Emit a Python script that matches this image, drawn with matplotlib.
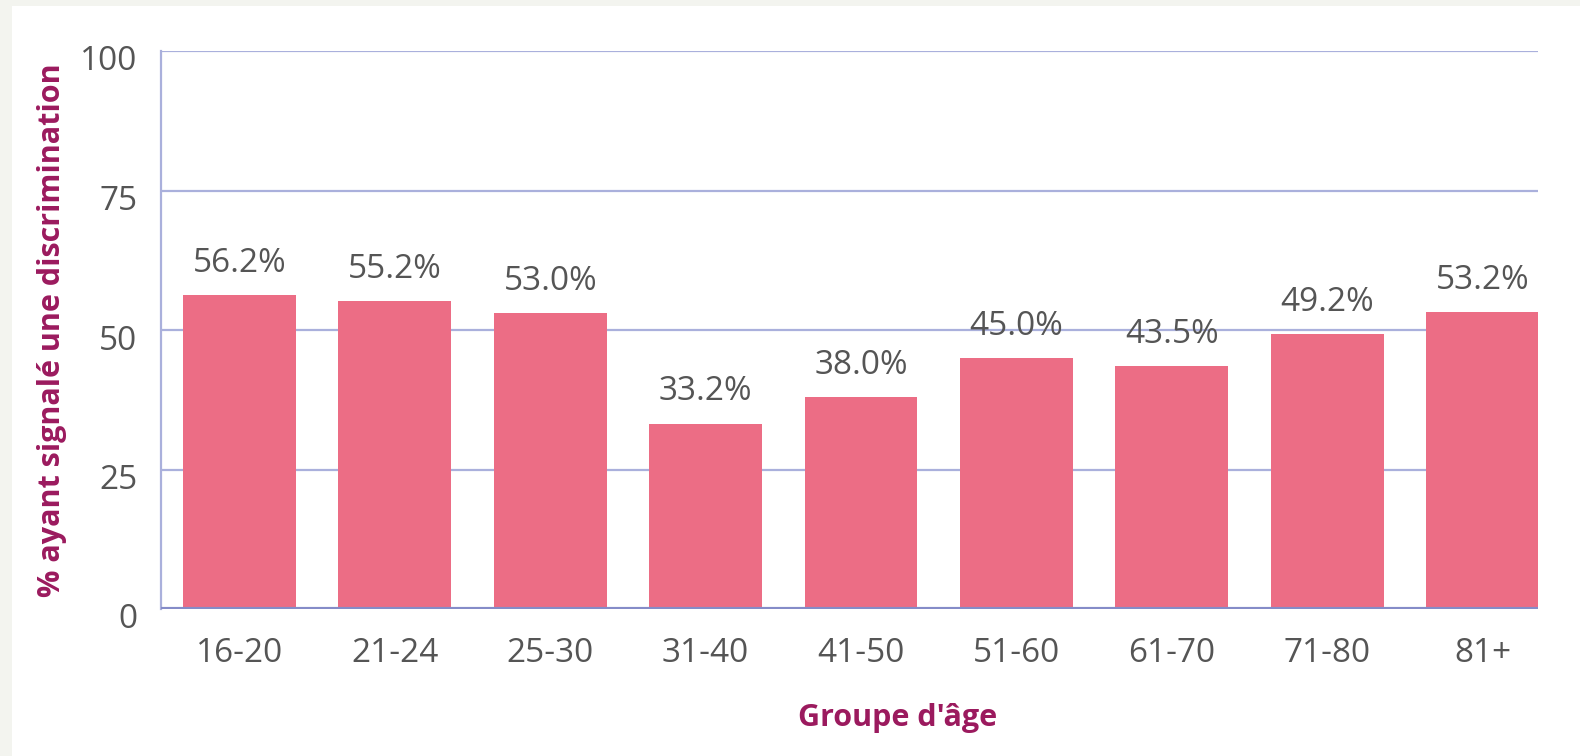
import matplotlib
matplotlib.use("Agg")
import matplotlib.pyplot as plt
from matplotlib.patches import Rectangle
from matplotlib.transforms import ScaledTranslation

categories = ["16-20", "21-24", "25-30", "31-40", "41-50", "51-60", "61-70", "71-80", "81+"]
values = [56.2, 55.2, 53.0, 33.2, 38.0, 45.0, 43.5, 49.2, 53.2]
yticks = [0, 25, 50, 75, 100]

plt.rcParams['font.family'] = ['Open Sans', 'DejaVu Sans']

W, H = 1580, 756
fig = plt.figure(figsize=(W / 100, H / 100), dpi=100)
fig.patch.set_facecolor("#f3f4ef")
fig.patches.append(Rectangle((12 / W, 0), 1, 1 - 6 / H, transform=fig.transFigure,
                             facecolor="white", edgecolor="none", zorder=-10))

ax = fig.add_axes([161 / W, 1 - 609 / H, (1538 - 161) / W, (609 - 51) / H])
ax.set_facecolor("none")
x = list(range(len(categories)))
bars = ax.bar(x, values, width=0.727, color="#ec6d85", zorder=2)
ax.set_xlim(-0.505, len(categories) - 1 + 0.357)
ax.set_ylim(0, 100)

grid_c = "#aab0dc"
for t in yticks[1:]:
    ax.axhline(t, color=grid_c, lw=1.6, zorder=1)
ax.axhline(0, color="#858cc8", lw=3, zorder=3)

for s in ["top", "right", "bottom"]:
    ax.spines[s].set_visible(False)
ax.spines["left"].set_color(grid_c)
ax.spines["left"].set_linewidth(1.6)

ax.set_yticks(yticks)
ax.set_xticks(x)
ax.set_xticklabels(categories)
ax.tick_params(axis="both", length=0, labelsize=24, colors="#555555")
ax.tick_params(axis="y", pad=17)
ax.tick_params(axis="x", pad=20)
off = ScaledTranslation(0, -7 / 100, fig.dpi_scale_trans)
for lab in ax.get_yticklabels():
    lab.set_transform(lab.get_transform() + off)

for xi, v in zip(x, values):
    ax.annotate(f"{v:.1f}%", (xi, v), xytext=(0, 11), textcoords="offset points",
                ha="center", va="bottom", fontsize=24, color="#555555", zorder=4)

fig.text(52 / W, 1 - 330 / H, "% ayant signalé une discrimination", rotation=90,
         ha="center", va="center", fontsize=22, fontweight="bold", color="#9b1a5e")
fig.text(898 / W, 1 - 718 / H, "Groupe d'âge", ha="center", va="center",
         fontsize=22, fontweight="bold", color="#9b1a5e")

fig.savefig("out.png", dpi=100)
